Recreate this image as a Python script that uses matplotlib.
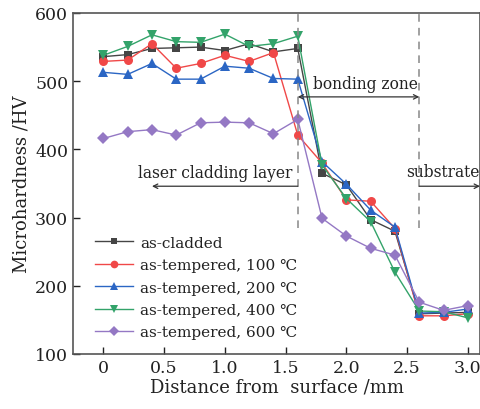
import matplotlib
matplotlib.use("Agg")
import matplotlib.pyplot as plt

distance = [0, 0.2, 0.4, 0.6, 0.8, 1.0, 1.2, 1.4, 1.6, 1.8, 2.0, 2.2, 2.4, 2.6, 2.8, 3.0]
as_cladded = [536, 539, 548, 549, 550, 545, 555, 543, 548, 365, 348, 297, 280, 159, 160, 161]
tempered_100 = [529, 531, 555, 519, 526, 538, 529, 542, 421, 380, 326, 324, 284, 156, 156, 159]
tempered_200 = [513, 510, 526, 503, 503, 522, 519, 504, 503, 382, 349, 311, 286, 160, 161, 166]
tempered_400 = [538, 551, 568, 558, 557, 569, 551, 555, 566, 377, 328, 294, 220, 163, 162, 153]
tempered_600 = [416, 426, 429, 421, 439, 440, 439, 423, 444, 299, 273, 255, 245, 176, 164, 171]

labels = ["as-cladded", "as-tempered, 100 \u2103", "as-tempered, 200 \u2103",
          "as-tempered, 400 \u2103", "as-tempered, 600 \u2103"]
colors = ["#454545", "#f04848", "#2b66c4", "#33a36a", "#9478c4"]
markers = ["s", "o", "^", "v", "D"]
sizes = [5.5, 6.5, 7, 7, 6]

plt.rcParams['font.family'] = ['DejaVu Serif', 'DejaVu Sans']

fig = plt.figure(figsize=(4.81, 4.10), dpi=100)
ax = fig.add_axes([73/481, 1-355/410, (480-73)/481, (355-14)/410])

series = [as_cladded, tempered_100, tempered_200, tempered_400, tempered_600]
for s, lab, c, m, ms in zip(series, labels, colors, markers, sizes):
    ax.plot(distance, s, color=c, marker=m, markersize=ms, linewidth=1.0, label=lab,
            markeredgewidth=0)

ax.set_xlim(-0.25, 3.1)
ax.set_ylim(100, 600)
ax.set_xticks([0, 0.5, 1.0, 1.5, 2.0, 2.5, 3.0])
ax.set_xticklabels(["0", "0.5", "1.0", "1.5", "2.0", "2.5", "3.0"])
ax.set_yticks([100, 200, 300, 400, 500, 600])
ax.tick_params(direction='in', length=5, labelsize=12.5, colors='#222222', width=1)
for sp in ax.spines.values():
    sp.set_color('#555555')
    sp.set_linewidth(1.2)

ax.set_xlabel("Distance from  surface /mm", fontsize=13, labelpad=1, color='#222222')
ax.set_ylabel("Microhardness /HV", fontsize=13, labelpad=3, color='#222222')

# boundary lines
for xv in [1.6, 2.6]:
    ax.axvline(xv, ymin=0.37, ymax=1.0, color='#888888', linestyle=(0, (5, 4)), linewidth=1.1)

arrow_kw = dict(arrowstyle='->', color='#333333', lw=0.9, shrinkA=0, shrinkB=0,
                mutation_scale=8)
ax.annotate("", xy=(0.4, 346), xytext=(1.6, 346), arrowprops=arrow_kw)
ax.text(0.92, 366, "laser cladding layer", ha='center', va='center', fontsize=11.2, color='#222222')

ax.annotate("", xy=(2.6, 477), xytext=(1.6, 477),
            arrowprops=dict(arrowstyle='<->', color='#333333', lw=0.9, shrinkA=0, shrinkB=0,
                            mutation_scale=8))
ax.text(2.16, 497, "bonding zone", ha='center', va='center', fontsize=11.2, color='#222222')

ax.annotate("", xy=(3.1, 346), xytext=(2.6, 346), arrowprops=arrow_kw)
ax.text(2.79, 368, "substrate", ha='center', va='center', fontsize=11.2, color='#222222')

leg = ax.legend(loc='upper left', bbox_to_anchor=(0.054, 0.347), frameon=False, fontsize=11,
                handlelength=2.5, handletextpad=0.45, labelspacing=0.55, borderaxespad=0,
                borderpad=0, markerscale=0.85)
for t in leg.get_texts():
    t.set_color('#222222')

fig.savefig("out.png", dpi=100)
